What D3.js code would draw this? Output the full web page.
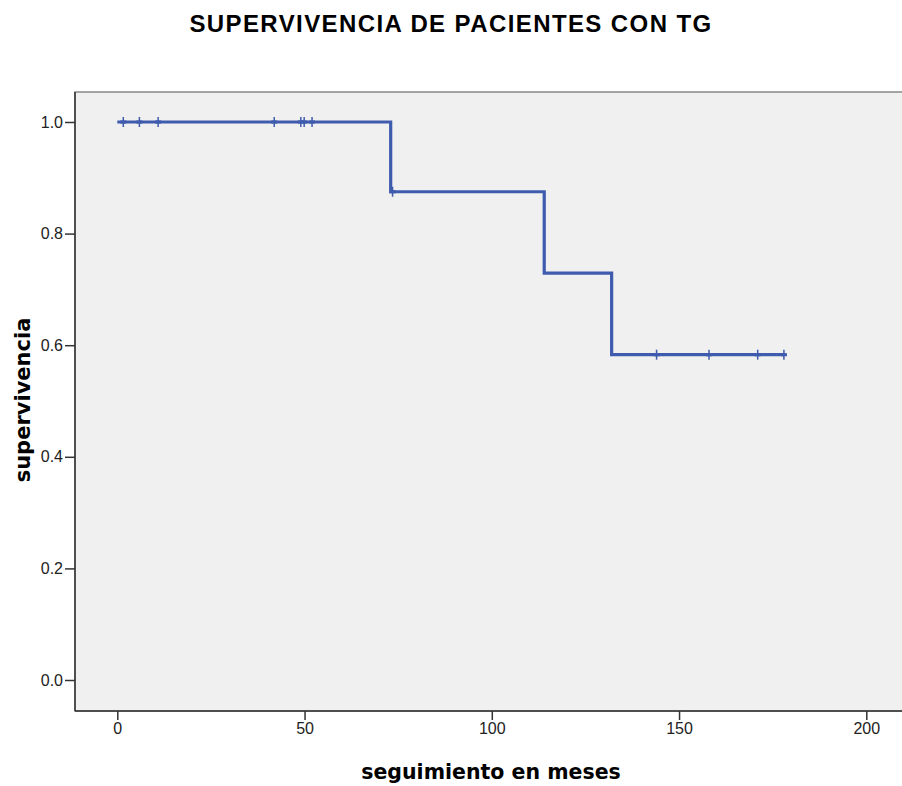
<!DOCTYPE html>
<html>
<head>
<meta charset="utf-8">
<script src="https://cdn.jsdelivr.net/npm/d3@7"></script>
<style>
  html, body { margin: 0; padding: 0; background: #fff; }
  svg { display: block; font-family: "Liberation Sans", Arial, sans-serif; }
</style>
</head>
<body>
<svg id="chart" width="902" height="786"></svg>
<script>
// Kaplan-Meier survival: step times and survival levels after each step
const stepTimes = [0, 73, 114, 132, 178];
const survivalLevels = [1.0, 0.875, 0.729, 0.583, 0.583];
// Censored follow-up times (months) with their survival level
const censorTimes = [1.6, 5.9, 10.9, 41.9, 49.0, 49.9, 52.0, 73.5, 144, 158, 171, 178];
const censorLevels = [1.0, 1.0, 1.0, 1.0, 1.0, 1.0, 1.0, 0.875, 0.583, 0.583, 0.583, 0.583];
const xTicks = [0, 50, 100, 150, 200];
const yTicks = [0.0, 0.2, 0.4, 0.6, 0.8, 1.0];

const svg = d3.select("#chart");
const plot = { left: 75, right: 910, top: 92, bottom: 711 };

const x = d3.scaleLinear().domain([0, 200]).range([117.3, 866.3]);
const y = d3.scaleLinear().domain([0, 1]).range([680, 122]);

// Title
svg.append("text")
  .attr("x", 451).attr("y", 32)
  .attr("text-anchor", "middle")
  .attr("font-size", 24).attr("font-weight", "bold")
  .attr("letter-spacing", 1.4)
  .attr("fill", "#000")
  .text("SUPERVIVENCIA DE PACIENTES CON TG");

// Plot background and frame
svg.append("rect")
  .attr("x", plot.left).attr("y", plot.top)
  .attr("width", plot.right - plot.left).attr("height", plot.bottom - plot.top)
  .attr("fill", "#f0f0f0")
  .attr("stroke", "#888").attr("stroke-width", 1.5);
svg.append("line")
  .attr("x1", plot.left).attr("x2", plot.left)
  .attr("y1", plot.top).attr("y2", plot.bottom)
  .attr("stroke", "#333").attr("stroke-width", 1.5);
svg.append("line")
  .attr("x1", plot.left).attr("x2", plot.right)
  .attr("y1", plot.bottom).attr("y2", plot.bottom)
  .attr("stroke", "#333").attr("stroke-width", 1.5);

// Axes
const xAxis = d3.axisBottom(x).tickValues(xTicks).tickSize(9).tickSizeOuter(0).tickPadding(3)
  .tickFormat(d3.format("d"));
const gx = svg.append("g").attr("transform", `translate(0,${plot.bottom})`).call(xAxis);
gx.select(".domain").remove();

const yAxis = d3.axisLeft(y).tickValues(yTicks).tickSize(10).tickSizeOuter(0).tickPadding(2)
  .tickFormat(d3.format(".1f"));
const gy = svg.append("g").attr("transform", `translate(${plot.left},0)`).call(yAxis);
gy.select(".domain").remove();

[gx, gy].forEach(g => {
  g.selectAll(".tick line").attr("stroke", "#333").attr("stroke-width", 1.5);
  g.selectAll(".tick text").attr("font-size", 16).attr("fill", "#222")
    .attr("font-family", "'Liberation Sans', Arial, sans-serif");
});

// Axis titles
svg.append("text")
  .attr("x", 491).attr("y", 779)
  .attr("text-anchor", "middle")
  .attr("font-family", "'DejaVu Sans', sans-serif")
  .attr("font-size", 20.5).attr("font-weight", "bold")
  .text("seguimiento en meses");
svg.append("text")
  .attr("transform", "translate(30,400) rotate(-90)")
  .attr("text-anchor", "middle")
  .attr("font-family", "'DejaVu Sans', sans-serif")
  .attr("font-size", 21).attr("font-weight", "bold")
  .text("supervivencia");

// Survival step curve
const pts = stepTimes.map((t, i) => [t, survivalLevels[i]]);
const line = d3.line().x(d => x(d[0])).y(d => y(d[1])).curve(d3.curveStepAfter);
svg.append("path")
  .datum(pts)
  .attr("d", line)
  .attr("fill", "none")
  .attr("stroke", "#3f5bad")
  .attr("stroke-width", 3.2)
  .attr("stroke-linejoin", "miter");

// Censor marks
const censors = censorTimes.map((t, i) => [t, censorLevels[i]]);
svg.append("g").selectAll("line.cens")
  .data(censors).join("line")
  .attr("x1", d => x(d[0])).attr("x2", d => x(d[0]))
  .attr("y1", d => y(d[1]) - 5).attr("y2", d => y(d[1]) + 5)
  .attr("stroke", "#3f5bad").attr("stroke-width", 1.5);
svg.append("g").selectAll("line.censh")
  .data(censors).join("line")
  .attr("x1", d => x(d[0]) - 3).attr("x2", d => x(d[0]) + 3)
  .attr("y1", d => y(d[1])).attr("y2", d => y(d[1]))
  .attr("stroke", "#3f5bad").attr("stroke-width", 3.2);
</script>
</body>
</html>
